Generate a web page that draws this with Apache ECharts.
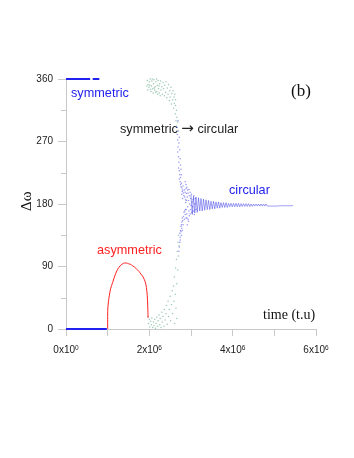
<!DOCTYPE html>
<html><head><meta charset="utf-8">
<script src="https://cdn.jsdelivr.net/npm/echarts@6/dist/echarts.min.js"></script>
<style>html,body{margin:0;padding:0;background:#fff}#c{width:354px;height:458px}</style>
</head><body><div id="c"></div>
<script>
// x values in units of 10^6 t.u, y values in degrees
var xTicks = [0, 2, 4, 6];
var yTicks = [0, 90, 180, 270, 360];

var symTop = [[0,360],[0.58,360],null,[0.64,360],[0.80,360]];
var symBottom = [[0,0],[0.98,0]];
var asymmetric = [[1.00,0],[1.00,25],[1.02,40],[1.04,48],[1.07,58],[1.12,67],[1.18,78],[1.24,86],[1.30,91],[1.35,93.5],[1.40,95],[1.45,95],[1.50,94],[1.55,93],[1.60,91],[1.65,89],[1.70,86],[1.75,83],[1.80,79],[1.85,75],[1.90,68],[1.93,60],[1.95,48],[1.96,36],[1.97,16]];

var greenTop = [[1.95,358],[1.97,352],[1.99,348],[2.00,356],[2.02,360],[2.03,345],[2.05,350],[2.06,357],[2.08,346],[2.10,353],[2.11,359],[2.13,344],[2.14,349],[2.16,356],[2.18,342],[2.19,351],[2.21,358],[2.22,346],[2.24,340],[2.25,353],[2.27,357],[2.28,344],[2.30,349],[2.31,338],[2.33,355],[2.34,346],[2.36,336],[2.37,351],[2.39,341],[2.40,356],[2.42,333],[2.43,347],[2.45,338],[2.46,352],[2.48,329],[2.49,343],[2.50,334],[2.52,348],[2.53,324],[2.54,339],[2.56,330],[2.57,343],[2.58,318],[2.59,334],[2.60,325],[2.61,338],[2.62,310],[2.63,322],[2.64,300],[2.65,315],[2.66,305],[2.63,330],[2.65,292],[2.67,285],[2.68,298],[1.94,350],[1.96,344],[2.01,351],[2.04,342],[2.07,360],[2.09,340],[2.12,347],[2.15,341],[2.17,360],[2.20,338],[2.23,350],[2.26,336]];

var greenBottom = [[1.97,18],[1.98,8],[2.00,14],[2.01,3],[2.03,11],[2.05,6],[2.06,16],[2.08,2],[2.10,10],[2.11,5],[2.13,14],[2.15,1],[2.16,8],[2.18,17],[2.20,4],[2.21,12],[2.23,20],[2.25,6],[2.26,15],[2.28,2],[2.30,24],[2.31,10],[2.33,18],[2.35,4],[2.36,28],[2.38,13],[2.40,22],[2.41,34],[2.43,7],[2.45,40],[2.46,18],[2.48,28],[2.50,47],[2.51,12],[2.53,35],[2.55,55],[2.56,22],[2.58,62],[2.59,40],[2.60,75],[2.61,8],[2.62,50],[2.63,88],[2.64,30],[2.65,100],[2.66,65],[2.67,112],[2.68,85],[2.69,125],[2.70,105],[2.66,15],[2.70,135],[2.71,120]];

var blueTransit = [[2.66,290],[2.67,280],[2.68,272],[2.69,262],[2.68,255],[2.70,248],[2.71,240],[2.70,232],[2.72,228],[2.73,222],[2.72,216],[2.74,212],[2.75,208],[2.76,205],[2.78,203],[2.80,200],[2.77,210],[2.79,198],[2.82,196],[2.84,200],[2.86,197],[2.83,192],[2.88,202],[2.81,206],[2.85,190],[2.75,218],[2.78,194],[2.87,186],[2.80,188],[2.72,118],[2.73,125],[2.74,132],[2.73,138],[2.75,142],[2.76,148],[2.77,150],[2.78,154],[2.80,156],[2.79,160],[2.82,162],[2.84,158],[2.86,165],[2.81,150],[2.83,168],[2.85,170],[2.88,160],[2.78,145],[2.90,166],[2.87,172],[2.76,140],
  [2.69,300],[2.71,268],[2.74,245],[2.73,258],[2.76,230],[2.77,222],[2.75,236],[2.70,285],[2.72,276],[2.71,112],[2.74,128],[2.77,135],[2.79,142],
  [2.86,212],[2.88,208],[2.90,204],[2.92,200],[2.89,195],[2.91,190],[2.93,196],[2.95,201],[2.94,185],[2.96,192],[2.98,197],[2.97,180],[2.99,188],[3.01,194],[2.92,176],[2.95,170],[2.98,166],[2.90,160],[2.93,158],[2.96,163],[2.91,150],[2.94,155],[2.99,172],[3.02,168],[3.04,176],[3.05,186],[3.07,192],[3.06,170],[3.09,180],[3.10,188],[3.12,172],[3.03,183],[2.88,172],[2.87,182],[2.89,185],[3.00,178],[3.08,165]];

var circularBand = [[3.00,193],[3.03,165],[3.06,191],[3.09,167],[3.12,190],[3.15,168],[3.18,189],[3.21,170],[3.24,188],[3.27,170],[3.30,187],[3.33,171],[3.36,186],[3.39,172],[3.42,185],[3.45,172],[3.48,184],[3.51,173],[3.54,184],[3.57,173],[3.60,183],[3.63,174],[3.66,183],[3.69,174],[3.72,182],[3.75,175],[3.78,182],[3.81,175],[3.84,182],[3.87,175],[3.90,181],[3.93,176],[3.96,181],[3.99,176],[4.02,181],[4.05,176],[4.08,181],[4.11,176],[4.14,181],[4.17,176],[4.20,180.5],[4.23,176.5],[4.26,180.5],[4.29,176.5],[4.32,180.5],[4.35,176.5],[4.38,180.5],[4.41,176.5],[4.44,180],[4.47,176.5],[4.50,180],[4.53,177],[4.56,180],[4.59,177],[4.62,180],[4.65,177],[4.68,180],[4.71,177],[4.74,180],[4.77,177],[4.80,180],[4.83,177],[4.86,179.5],[4.89,177],[4.92,179.5],[4.95,177],[4.98,179.5],[5.01,177],[5.04,179.5],[5.07,177],[5.10,179.5],[5.13,177.5],[5.16,179.5],[5.19,177.5],[5.22,179.5],[5.25,177.5],[5.28,179],[5.31,177.5],[5.34,179],[5.37,177.5],[5.40,179],[5.43,177.5],[5.45,178.5]];

var chart = echarts.init(document.getElementById('c'), null, {renderer:'canvas'});
var BLUE = '#2222ee', GREEN = 'rgba(100,170,140,0.8)', DOT_BLUE = 'rgba(80,80,235,0.75)';
var sans = 'Liberation Sans, Arial, sans-serif', serif = 'Liberation Serif, Times New Roman, serif';

chart.setOption({
  animation: false,
  grid: {left: 66, right: 38, top: 79, bottom: 129},
  xAxis: {
    type: 'value', min: xTicks[0], max: xTicks[xTicks.length-1], interval: 2,
    axisLine: {lineStyle: {color: '#c8c8c8'}},
    axisTick: {length: 7, lineStyle: {color: '#c8c8c8'}},
    minorTick: {show: true, splitNumber: 2, length: 7, lineStyle: {color: '#c8c8c8'}},
    splitLine: {show: false},
    axisLabel: {
      margin: 16,
      formatter: function (v) { return v === 0 ? '{b|0x10}{s|0}' : '{b|' + v + 'x10}{s|6}'; },
      rich: {
        b: {fontSize: 10, fontFamily: sans, color: '#222', lineHeight: 10, padding: [3,0,0,0], verticalAlign: 'bottom'},
        s: {fontSize: 6.5, fontFamily: sans, color: '#222', lineHeight: 7, verticalAlign: 'top'}
      }
    }
  },
  yAxis: {
    type: 'value', min: yTicks[0], max: yTicks[yTicks.length-1], interval: 90,
    axisLine: {show: true, lineStyle: {color: '#c8c8c8'}},
    axisTick: {show: true, length: 8, lineStyle: {color: '#c8c8c8'}},
    minorTick: {show: true, splitNumber: 2, length: 5, lineStyle: {color: '#c8c8c8'}},
    splitLine: {show: false},
    axisLabel: {margin: 13, fontSize: 10, fontFamily: sans, color: '#222'}
  },
  series: [
    {type: 'scatter', data: greenTop, symbolSize: 1.5, itemStyle: {color: GREEN}, silent: true},
    {type: 'scatter', data: greenBottom, symbolSize: 1.5, itemStyle: {color: GREEN}, silent: true},
    {type: 'scatter', data: blueTransit, symbolSize: 1.5, itemStyle: {color: DOT_BLUE}, silent: true},
    {type: 'line', data: circularBand, symbol: 'none', lineStyle: {color: 'rgba(60,60,230,0.7)', width: 0.7}, silent: true},
    {type: 'line', data: symTop, symbol: 'none', connectNulls: false, lineStyle: {color: BLUE, width: 2}},
    {type: 'line', data: symBottom, symbol: 'none', lineStyle: {color: BLUE, width: 2}},
    {type: 'line', data: asymmetric, symbol: 'none', smooth: 0.3, lineStyle: {color: '#ff2020', width: 1}}
  ],
  graphic: [
    {type: 'text', left: 71, top: 87, style: {text: 'symmetric', fill: BLUE, font: '12.7px ' + sans}},
    {type: 'text', left: 120, top: 122, style: {
      text: '{t|symmetric }{a|\u2192}{t| circular}', fill: '#222',
      rich: {t: {font: '12.7px ' + sans, fill: '#222'}, a: {font: '15px DejaVu Sans', fill: '#222'}}}},
    {type: 'text', left: 229, top: 184, style: {text: 'circular', fill: BLUE, font: '12.7px ' + sans}},
    {type: 'text', left: 97, top: 244, style: {text: 'asymmetric', fill: '#ff2020', font: '12.7px ' + sans}},
    {type: 'text', left: 291, top: 83, style: {text: '(b)', fill: '#111', font: '17px ' + serif}},
    {type: 'text', left: 263, top: 308, style: {text: 'time (t.u)', fill: '#111', font: '14px ' + serif}},
    {type: 'text', x: 20, y: 211, rotation: Math.PI/2, style: {text: '\u0394\u03c9', fill: '#111', font: '15px ' + serif}}
  ]
});
</script></body></html>
